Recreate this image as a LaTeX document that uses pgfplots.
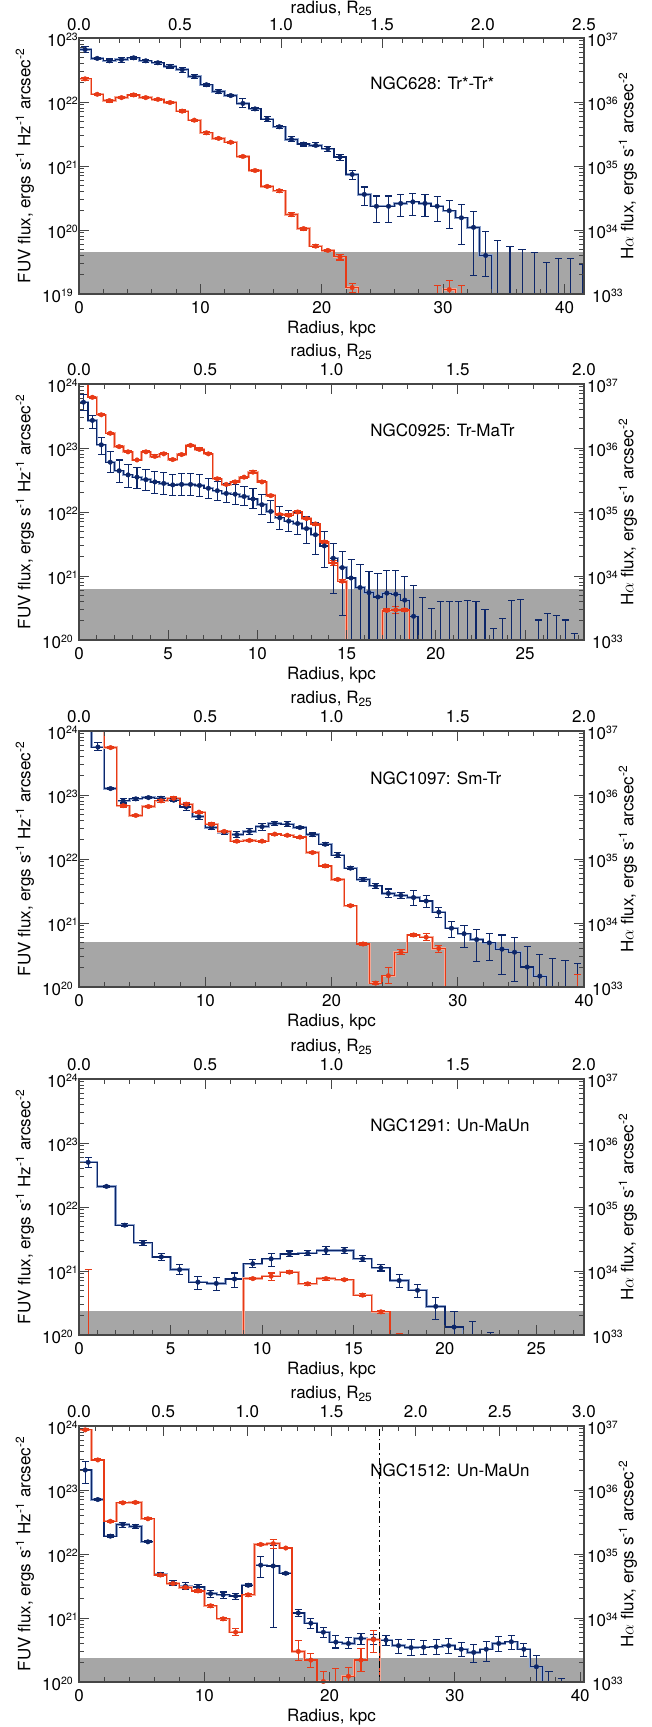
\documentclass[border=0pt]{standalone}
\usepackage{fontspec}
\setmainfont{TeX Gyre Heros}
\usepackage{pgfplots}
\usepackage{pgfplotstable}
\pgfplotsset{compat=1.18}

\definecolor{fuv}{RGB}{12,38,105}
\definecolor{fuvl}{RGB}{140,162,205}
\definecolor{ha}{RGB}{232,58,22}
\definecolor{hal}{RGB}{246,168,150}
\definecolor{band}{RGB}{166,166,166}
\definecolor{axisc}{RGB}{70,70,70}

\newcommand{\fnt}{\fontsize{17}{20}\selectfont}

% ---------------- data: x (bin centre, kpc), y, lo, hi ----------------
\pgfplotstableread{
x y lo hi
0.5 6.6e22 5.9e22 7.4e22
1.5 4.8e22 4.6e22 5.0e22
2.5 4.4e22 4.1e22 4.7e22
3.5 4.6e22 4.2e22 5.0e22
4.5 4.9e22 4.7e22 5.1e22
5.5 4.4e22 4.2e22 4.6e22
6.5 4.1e22 3.9e22 4.3e22
7.5 3.6e22 3.4e22 3.9e22
8.5 3.2e22 2.9e22 3.5e22
9.5 2.5e22 2.35e22 2.7e22
10.5 1.86e22 1.78e22 1.95e22
11.5 1.45e22 1.35e22 1.55e22
12.5 1.26e22 1.2e22 1.32e22
13.5 9.5e21 8.1e21 1.12e22
14.5 7.8e21 7.4e21 8.1e21
15.5 5.4e21 4.9e21 5.9e21
16.5 4.1e21 3.9e21 4.3e21
17.5 2.6e21 2.45e21 2.9e21
18.5 2.2e21 2.05e21 2.35e21
19.5 2.1e21 2.0e21 2.3e21
20.5 1.86e21 1.7e21 2.0e21
21.5 1.38e21 1.2e21 1.5e21
22.5 7.4e20 6.2e20 8.5e20
23.5 3.6e20 2.4e20 4.7e20
24.5 2.35e20 1.3e20 3.4e20
25.5 2.35e20 1.3e20 3.4e20
26.5 2.6e20 1.6e20 3.6e20
27.5 2.75e20 1.7e20 3.7e20
28.5 2.6e20 1.65e20 3.6e20
29.5 2.35e20 1.35e20 3.3e20
30.5 2.0e20 1.05e20 2.9e20
31.5 1.55e20 6.0e19 2.5e20
32.5 1.1e20 1.95e19 1.95e20
33.5 4.0e19 1.9e19 9.5e19
34.5 1e17 1e17 6.9e19
35.5 1e17 1e17 5.6e19
36.5 1e17 1e17 4.9e19
37.5 1e17 1e17 4.5e19
38.5 1e17 1e17 3.1e19
39.5 1e17 1e17 3.6e19
40.5 1e17 1e17 3.6e19
41.5 1e17 1e17 2.9e19
}\tAb
\pgfplotstableread{
x y lo hi
0.5 2.3e22 2.2e22 2.4e22
1.5 1.32e22 1.27e22 1.37e22
2.5 1.05e22 1.0e22 1.1e22
3.5 1.17e22 1.12e22 1.22e22
4.5 1.29e22 1.24e22 1.34e22
5.5 1.17e22 1.12e22 1.22e22
6.5 1.1e22 1.06e22 1.14e22
7.5 9.8e21 9.4e21 1.02e22
8.5 7.2e21 6.9e21 7.5e21
9.5 5.2e21 5.0e21 5.4e21
10.5 3.3e21 3.15e21 3.45e21
11.5 2.7e21 2.6e21 2.8e21
12.5 2.35e21 2.25e21 2.45e21
13.5 1.41e21 1.35e21 1.47e21
14.5 8.5e20 8.1e20 8.9e20
15.5 4.8e20 4.6e20 5.0e20
16.5 4.1e20 3.9e20 4.3e20
17.5 1.74e20 1.6e20 1.9e20
18.5 1.05e20 1.0e20 1.1e20
19.5 5.6e19 5.3e19 5.9e19
20.5 4.8e19 4.6e19 5.0e19
21.5 3.8e19 3.4e19 4.2e19
22.5 1.26e19 1.07e19 1.48e19
23.5 1e17 1e17 1e17
24.5 1e17 1e17 1e17
25.5 1e17 1e17 1e17
26.5 1e17 1e17 1e17
27.5 1e17 1e17 1e17
28.5 1e17 1e17 1e17
29.5 1e17 1e17 1.35e19
30.5 1.17e19 1.0e19 1.6e19
31.5 1e17 1e17 1.35e19
32.5 1e17 1e17 1e17
33.5 1e17 1e17 1e17
34.5 1e17 1e17 1e17
35.5 1e17 1e17 1e17
36.5 1e17 1e17 1e17
37.5 1e17 1e17 1e17
38.5 1e17 1e17 1e17
39.5 1e17 1e17 1e17
40.5 1e17 1e17 1e17
41.5 1e17 1e17 1e17
}\tAr
\pgfplotstableread{
x y lo hi
0.25 5.2e23 3.8e23 6.8e23
0.75 2.7e23 2.0e23 3.2e23
1.25 1.12e23 7.9e22 1.45e23
1.75 6.0e22 4.1e22 8.7e22
2.25 4.4e22 2.9e22 6.5e22
2.75 3.8e22 2.45e22 5.5e22
3.25 3.5e22 2.35e22 5.0e22
3.75 3.2e22 2.15e22 4.6e22
4.25 2.95e22 1.95e22 4.3e22
4.75 2.8e22 1.9e22 4.1e22
5.25 2.65e22 1.8e22 3.8e22
5.75 2.7e22 1.8e22 4.0e22
6.25 2.7e22 1.8e22 4.0e22
6.75 2.6e22 1.75e22 3.9e22
7.25 2.35e22 1.6e22 3.3e22
7.75 2.15e22 1.5e22 3.0e22
8.25 1.95e22 1.4e22 2.75e22
8.75 1.9e22 1.3e22 2.7e22
9.25 1.75e22 1.25e22 2.5e22
9.75 1.6e22 1.15e22 2.35e22
10.25 1.3e22 9.1e21 1.85e22
10.75 1.02e22 6.9e21 1.5e22
11.25 8.1e21 5.4e21 1.2e22
11.75 7.2e21 4.9e21 1.05e22
12.25 6.6e21 4.4e21 9.8e21
12.75 5.5e21 3.2e21 8.5e21
13.25 4.4e21 2.2e21 6.8e21
13.75 2.95e21 1.35e21 4.9e21
14.25 1.9e21 5.4e20 3.2e21
14.75 1.35e21 2.45e20 2.4e21
15.25 9.3e20 1e18 1.8e21
15.75 6.6e20 1e18 1.5e21
16.25 5.5e20 1e18 1.17e21
16.75 4.7e20 1e18 1.1e21
17.25 5.4e20 1e18 1.23e21
17.75 5.2e20 1e18 1.23e21
18.25 4.2e20 1e18 9.8e20
18.75 2.35e20 1e18 7.2e20
19.25 1e18 1e18 4.6e20
19.75 1e18 1e18 3.1e20
20.25 1e18 1e18 4.0e20
20.75 1e18 1e18 4.0e20
21.25 1e18 1e18 4.0e20
21.75 1e18 1e18 4.1e20
22.25 1e18 1e18 4.0e20
22.75 1e18 1e18 3.0e20
23.25 1e18 1e18 1.5e20
23.75 1e18 1e18 2.15e20
24.25 1e18 1e18 4.2e20
24.75 1e18 1e18 4.35e20
25.25 1e18 1e18 1e18
25.75 1e18 1e18 2.05e20
26.25 1e18 1e18 2.6e20
26.75 1e18 1e18 2.45e20
27.25 1e18 1e18 2.05e20
27.75 1e18 1e18 1.25e20
28.25 1e18 1e18 1e18
}\tBb
\pgfplotstableread{
x y lo hi
0.25 1.12e24 1.1e24 1.15e24
0.75 6.2e23 6.0e23 6.4e23
1.25 3.3e23 3.2e23 3.4e23
1.75 1.7e23 1.65e23 1.75e23
2.25 1.05e23 1.02e23 1.08e23
2.75 8.7e22 8.4e22 9.0e22
3.25 6.5e22 6.3e22 6.7e22
3.75 8.7e22 8.4e22 9.0e22
4.25 7.4e22 7.0e22 7.9e22
4.75 8.1e22 7.8e22 8.4e22
5.25 6.6e22 6.4e22 6.8e22
5.75 7.9e22 7.6e22 8.2e22
6.25 1.1e23 1.06e23 1.14e23
6.75 9.5e22 9.0e22 1.0e23
7.25 8.1e22 7.8e22 8.4e22
7.75 3.3e22 3.2e22 3.4e22
8.25 2.7e22 2.6e22 2.8e22
8.75 2.95e22 2.85e22 3.05e22
9.25 3.5e22 3.4e22 3.6e22
9.75 4.2e22 4.0e22 4.4e22
10.25 2.95e22 2.85e22 3.05e22
10.75 1.8e22 1.74e22 1.86e22
11.25 9.1e21 8.7e21 9.5e21
11.75 8.9e21 8.5e21 9.3e21
12.25 1.0e22 9.6e21 1.04e22
12.75 7.9e21 7.6e21 8.2e21
13.25 6.5e21 6.2e21 6.8e21
13.75 3.4e21 3.2e21 3.6e21
14.25 1.6e21 1.45e21 1.75e21
14.75 8.3e20 7.9e20 8.7e20
15.25 1e18 1e18 1e18
15.75 1e18 1e18 1e18
16.25 1e18 1e18 1e18
16.75 1e18 1e18 1e18
17.25 2.9e20 2.75e20 3.05e20
17.75 2.95e20 2.6e20 3.3e20
18.25 2.95e20 2.75e20 3.1e20
18.75 1e18 1e18 1e18
19.25 1e18 1e18 1e18
19.75 1e18 1e18 1e18
20.25 1e18 1e18 1e18
20.75 1e18 1e18 1e18
21.25 1e18 1e18 1e18
21.75 1e18 1e18 1e18
22.25 1e18 1e18 1e18
22.75 1e18 1e18 1e18
23.25 1e18 1e18 1e18
23.75 1e18 1e18 1e18
24.25 1e18 1e18 1e18
24.75 1e18 1e18 1e18
25.25 1e18 1e18 1e18
25.75 1e18 1e18 1e18
26.25 1e18 1e18 1e18
26.75 1e18 1e18 1e18
27.25 1e18 1e18 1e18
27.75 1e18 1e18 1e18
28.25 1e18 1e18 1e18
}\tBr
\pgfplotstableread{
x y lo hi
0.5 1.26e24 1.2e24 1.3e24
1.5 5.6e23 4.9e23 6.6e23
2.5 1.26e23 1.22e23 1.3e23
3.5 8.1e22 7.5e22 8.7e22
4.5 8.7e22 8.3e22 9.1e22
5.5 9.1e22 8.7e22 9.5e22
6.5 8.9e22 8.3e22 9.5e22
7.5 8.3e22 7.9e22 8.7e22
8.5 6.5e22 5.8e22 7.2e22
9.5 4.6e22 4.1e22 5.1e22
10.5 3.1e22 2.9e22 3.35e22
11.5 2.6e22 2.45e22 2.8e22
12.5 2.4e22 2.15e22 2.65e22
13.5 2.7e22 2.45e22 2.95e22
14.5 3.2e22 2.8e22 3.6e22
15.5 3.6e22 3.3e22 3.9e22
16.5 3.5e22 3.2e22 3.8e22
17.5 3.1e22 2.95e22 3.25e22
18.5 2.4e22 2.25e22 2.55e22
19.5 1.7e22 1.6e22 1.8e22
20.5 1.15e22 1.05e22 1.25e22
21.5 7.2e21 6.8e21 7.6e21
22.5 4.8e21 4.5e21 5.1e21
23.5 3.8e21 3.5e21 4.1e21
24.5 2.9e21 2.5e21 3.4e21
25.5 2.7e21 2.45e21 2.95e21
26.5 2.5e21 1.86e21 3.2e21
27.5 2.2e21 1.74e21 2.65e21
28.5 1.48e21 1.2e21 1.74e21
29.5 8.3e20 5.9e20 1.07e21
30.5 6.8e20 4.2e20 9.1e20
31.5 5.5e20 2.5e20 7.8e20
32.5 4.9e20 2.6e20 6.9e20
33.5 3.9e20 1.55e20 6.5e20
34.5 3.5e20 1.23e20 6.0e20
35.5 2.05e20 1e18 4.3e20
36.5 1.48e20 1e18 3.2e20
37.5 1e18 1e18 2.75e20
38.5 1e18 1e18 2.6e20
39.5 1e18 1e18 2.35e20
}\tCb
\pgfplotstableread{
x y lo hi
0.5 1.26e24 1.2e24 1.3e24
1.5 1.26e24 1.2e24 1.3e24
2.5 5.5e23 5.3e23 5.7e23
3.5 6.8e22 6.5e22 7.1e22
4.5 4.8e22 4.6e22 5.0e22
5.5 6.6e22 6.3e22 6.9e22
6.5 8.1e22 7.7e22 8.5e22
7.5 8.9e22 8.5e22 9.3e22
8.5 7.2e22 6.9e22 7.5e22
9.5 5.4e22 5.2e22 5.6e22
10.5 3.5e22 3.35e22 3.65e22
11.5 2.7e22 2.6e22 2.8e22
12.5 1.9e22 1.83e22 1.97e22
13.5 1.95e22 1.88e22 2.02e22
14.5 1.9e22 1.83e22 1.97e22
15.5 2.45e22 2.36e22 2.54e22
16.5 2.35e22 2.26e22 2.44e22
17.5 2.2e22 2.12e22 2.28e22
18.5 1.26e22 1.21e22 1.31e22
19.5 7.8e21 7.5e21 8.1e21
20.5 4.8e21 4.6e21 5.0e21
21.5 1.86e21 1.79e21 1.93e21
22.5 4.7e20 4.5e20 4.9e20
23.5 1.15e20 1.1e20 1.2e20
24.5 1.5e20 1.12e20 2.0e20
25.5 3.5e20 3.2e20 3.9e20
26.5 6.5e20 6.2e20 6.8e20
27.5 6.0e20 5.4e20 6.8e20
28.5 4.0e20 3.5e20 4.5e20
29.5 1e18 1e18 1e18
30.5 1e18 1e18 1e18
31.5 1e18 1e18 1e18
32.5 1e18 1e18 1e18
33.5 1e18 1e18 1e18
34.5 1e18 1e18 1e18
35.5 1e18 1e18 1e18
36.5 1e18 1e18 1e18
37.5 1e18 1e18 1e18
38.5 1e18 1e18 1e18
39.5 1e18 1e18 1.55e20
}\tCr
\pgfplotstableread{
x y lo hi
0.5 5.0e22 4.1e22 6.0e22
1.5 2.1e22 2.03e22 2.17e22
2.5 5.2e21 4.9e21 5.5e21
3.5 2.75e21 2.5e21 3.0e21
4.5 1.66e21 1.45e21 1.9e21
5.5 1.05e21 8.7e20 1.26e21
6.5 6.7e20 5.2e20 8.3e20
7.5 6.4e20 5.0e20 7.8e20
8.5 7.5e20 5.6e20 9.3e20
9.5 1.3e21 1.12e21 1.5e21
10.5 1.55e21 1.17e21 1.9e21
11.5 1.85e21 1.7e21 2.05e21
12.5 1.9e21 1.75e21 2.1e21
13.5 2.1e21 1.8e21 2.4e21
14.5 2.1e21 1.9e21 2.3e21
15.5 1.55e21 1.4e21 1.75e21
16.5 1.12e21 1.0e21 1.25e21
17.5 7.1e20 5.6e20 8.7e20
18.5 5.0e20 3.9e20 6.2e20
19.5 2.8e20 1.75e20 3.9e20
20.5 1.33e20 1e18 2.35e20
21.5 1e18 1e18 1.6e20
22.5 1e18 1e18 1.1e20
23.5 1e18 1e18 1e18
24.5 1e18 1e18 1e18
25.5 1e18 1e18 1e18
26.5 1e18 1e18 1e18
27.5 1e18 1e18 1e18
}\tDb
\pgfplotstableread{
x y lo hi
0.5 1e18 1e18 1.07e21
1.5 1e18 1e18 1e18
2.5 1e18 1e18 1e18
3.5 1e18 1e18 1e18
4.5 1e18 1e18 1e18
5.5 1e18 1e18 1e18
6.5 1e18 1e18 1e18
7.5 1e18 1e18 1e18
8.5 1e18 1e18 1e18
9.5 7.6e20 7.3e20 7.9e20
10.5 8.3e20 7.2e20 9.3e20
11.5 9.6e20 9.2e20 1.0e21
12.5 6.3e20 6.0e20 6.6e20
13.5 7.6e20 7.2e20 8.0e20
14.5 7.3e20 7.0e20 7.6e20
15.5 4.2e20 4.0e20 4.4e20
16.5 2.3e20 2.2e20 2.4e20
17.5 1e18 1e18 1.07e20
18.5 1e18 1e18 1e18
19.5 1e18 1e18 1e18
20.5 1e18 1e18 1e18
21.5 1e18 1e18 1e18
22.5 1e18 1e18 1e18
23.5 1e18 1e18 1e18
24.5 1e18 1e18 1e18
25.5 1e18 1e18 1e18
26.5 1e18 1e18 1e18
27.5 1e18 1e18 1e18
}\tDr
\pgfplotstableread{
x y lo hi
0.5 2.05e23 1.26e23 2.75e23
1.5 7.1e22 6.8e22 7.4e22
2.5 1.9e22 1.82e22 1.98e22
3.5 2.9e22 2.6e22 3.1e22
4.5 2.7e22 2.5e22 2.9e22
5.5 1.55e22 1.5e22 1.6e22
6.5 4.8e21 4.5e21 5.1e21
7.5 3.5e21 3.2e21 3.8e21
8.5 3.15e21 2.8e21 3.6e21
9.5 3.05e21 2.8e21 3.3e21
10.5 2.4e21 2.1e21 2.7e21
11.5 2.3e21 2.05e21 2.55e21
12.5 2.2e21 1.95e21 2.45e21
13.5 3.25e21 3.1e21 3.4e21
14.5 6.7e21 4.3e21 9.1e21
15.5 6.5e21 7.2e20 1.35e22
16.5 5.0e21 4.8e21 5.2e21
17.5 1.2e21 1.07e21 1.35e21
18.5 8.3e20 6.8e20 9.8e20
19.5 6.0e20 5.0e20 7.2e20
20.5 4.2e20 3.4e20 5.3e20
21.5 4.0e20 3.3e20 4.9e20
22.5 4.8e20 3.9e20 5.8e20
23.5 4.7e20 3.9e20 5.6e20
24.5 4.5e20 3.7e20 5.4e20
25.5 3.7e20 2.8e20 4.6e20
26.5 3.45e20 2.6e20 4.6e20
27.5 3.5e20 2.65e20 4.5e20
28.5 3.55e20 2.7e20 4.6e20
29.5 3.7e20 2.8e20 4.8e20
30.5 3.25e20 2.5e20 4.1e20
31.5 2.9e20 2.05e20 3.8e20
32.5 3.25e20 2.1e20 4.3e20
33.5 4.0e20 3.0e20 5.2e20
34.5 4.25e20 3.2e20 5.4e20
35.5 3.25e20 2.5e20 4.0e20
36.5 1.73e20 1e18 2.6e20
37.5 1e18 1e18 1.45e20
38.5 1e18 1e18 1.12e20
39.5 1e18 1e18 1.02e20
}\tEb
\pgfplotstableread{
x y lo hi
0.5 8.7e23 8.4e23 9.0e23
1.5 2.95e23 2.85e23 3.05e23
2.5 3.25e22 3.15e22 3.35e22
3.5 6.3e22 6.1e22 6.5e22
4.5 6.4e22 6.2e22 6.6e22
5.5 3.55e22 3.45e22 3.65e22
6.5 4.7e21 4.5e21 4.9e21
7.5 3.45e21 3.3e21 3.6e21
8.5 3.0e21 2.85e21 3.15e21
9.5 2.65e21 2.52e21 2.78e21
10.5 1.55e21 1.48e21 1.62e21
11.5 9.7e20 9.2e20 1.02e21
12.5 6.0e20 5.3e20 6.8e20
13.5 2.3e21 2.2e21 2.4e21
14.5 1.41e22 1.36e22 1.46e22
15.5 1.45e22 1.2e22 1.66e22
16.5 1.24e22 1.2e22 1.28e22
17.5 3.0e20 2.2e20 4.5e20
18.5 2.2e20 1.66e20 2.8e20
19.5 1.02e20 1e18 1.48e20
20.5 1e18 1e18 1.6e20
21.5 1.23e20 1.0e20 1.7e20
22.5 2.2e20 1.45e20 3.3e20
23.5 4.6e20 2.9e20 6.3e20
24.5 1e18 1e18 1e18
25.5 1e18 1e18 1e18
26.5 1e18 1e18 1e18
27.5 1e18 1e18 1e18
28.5 1e18 1e18 1e18
29.5 1e18 1e18 1e18
30.5 1e18 1e18 1e18
31.5 1e18 1e18 1e18
32.5 1e18 1e18 1e18
33.5 1e18 1e18 1e18
34.5 1e18 1e18 1e18
35.5 1e18 1e18 1e18
36.5 1e18 1e18 1e18
37.5 1e18 1e18 1e18
38.5 1e18 1e18 1e18
39.5 1e18 1e18 1e18
}\tEr

% ---------------- plotting helpers ----------------
% #1 table, #2 half bin width, #3 ymin, #4 ymax, #5 colour, #6 light colour
\newcommand{\steps}[6]{%
  \addplot[#6, line width=2.4pt, const plot mark left, forget plot]
    table[x expr=\thisrow{x}-#2, y expr={min(max(\thisrow{y},#3),#4)}]{#1};
  \addplot[#6, line width=2.4pt, const plot mark right, forget plot]
    table[x expr=\thisrow{x}+#2, y expr={min(max(\thisrow{y},#3),#4)}]{#1};
  \addplot[#5, line width=1.2pt, const plot mark left, forget plot]
    table[x expr=\thisrow{x}-#2, y expr={min(max(\thisrow{y},#3),#4)}]{#1};
  \addplot[#5, line width=1.2pt, const plot mark right, forget plot]
    table[x expr=\thisrow{x}+#2, y expr={min(max(\thisrow{y},#3),#4)}]{#1};
}
% #1 table, #2 colour
\newcommand{\pts}[2]{%
  \addplot[#2, only marks, mark=*, mark size=2.3pt, forget plot,
    error bars/y dir=both, error bars/y explicit,
    error bars/error bar style={#2, line width=1.1pt},
    error bars/error mark options={#2, rotate=90, mark size=3.6pt, line width=1.1pt}]
    table[x=x, y=y, y error plus expr=\thisrow{hi}-\thisrow{y},
          y error minus expr=\thisrow{y}-\thisrow{lo}]{#1};
}

\newcommand{\logtick}{10\raisebox{6pt}{\fontsize{10.5}{11}\selectfont\pgfmathprintnumber[fixed,precision=0,assume math mode=true]{\tick}}}

\pgfplotsset{
  every axis/.append style={
    scale only axis, width=505pt, height=256pt,
    tick align=inside,
    axis line style={axisc, line width=1.3pt},
    major tick length=10pt, minor tick length=5pt,
    tick style={axisc, line width=0.9pt},
    every tick label/.append style={font=\fnt},
    label style={font=\fnt},
  },
  mainax/.style={
    xtick pos=left, xticklabel pos=left, ytick pos=left, yticklabel pos=left,
    axis on top,
    xticklabel={\pgfmathprintnumber[assume math mode=true]{\tick}},
    yticklabel={\logtick\ifnum\ticknum=0\kern5pt\fi},
    every x tick label/.append style={yshift=-4pt},
    every y tick label/.append style={inner xsep=1pt, yshift=-2pt},
    xlabel={Radius, kpc},
    ylabel={FUV flux, ergs s\textsuperscript{-1} Hz\textsuperscript{-1} arcsec\textsuperscript{-2}},
    xlabel style={at={(axis description cs:0.5,-0.136)}, anchor=center},
    ylabel style={at={(axis description cs:-0.107,0.5)}, anchor=center},
  },
  topax/.style={
    xtick pos=right, xticklabel pos=right, ytick pos=right, yticklabel pos=right,
    xmin=0,
    xtick distance=0.5, minor x tick num=4,
    xticklabel={\pgfmathprintnumber[fixed,fixed zerofill,precision=1,assume math mode=true]{\tick}},
    yticklabel={\ifnum\ticknum=0\kern5pt\fi\logtick},
    every x tick label/.append style={yshift=5pt},
    every y tick label/.append style={inner xsep=3pt, yshift=-2pt},
    xlabel={radius, R\textsubscript{25}},
    ylabel={H$\alpha$ flux, ergs s\textsuperscript{-1} arcsec\textsuperscript{-2}},
    xlabel style={at={(axis description cs:0.5,1.125)}, anchor=center},
    ylabel style={at={(axis description cs:1.087,0.5)}, anchor=center},
  },
}

\begin{document}
\begin{tikzpicture}
% ================= panel 1 =================
\begin{axis}[mainax, ymode=log, log basis y=10, anchor=north west, at={(79pt,-38pt)},
  xmin=0, xmax=41.6, ymin=1e19, ymax=1e23, xtick distance=10, minor x tick num=4]
\addplot[fill=band, draw=none, forget plot] coordinates {(0,1e19) (41.6,1e19) (41.6,4.5e19) (0,4.5e19)} -- cycle;
\steps{\tAb}{0.5}{1e19}{1e23}{fuv}{fuvl}
\steps{\tAr}{0.5}{1e19}{1e23}{ha}{hal}
\pts{\tAb}{fuv}
\pts{\tAr}{ha}
\node[anchor=west, font=\fnt] at (rel axis cs:0.57,0.824) {NGC628: Tr*-Tr*};
\end{axis}
\begin{axis}[topax, ymode=log, log basis y=10, anchor=north west, at={(79pt,-38pt)},
  xmax=2.5, ymin=1e33, ymax=1e37,
  every x tick label/.append style={yshift=-1pt},
  xlabel style={at={(axis description cs:0.5,1.115)}, anchor=center}]
\end{axis}
% ================= panel 2 =================
\begin{axis}[mainax, ymode=log, log basis y=10, anchor=north west, at={(79pt,-384pt)},
  xmin=0, xmax=28.3, ymin=1e20, ymax=1e24, xtick distance=5, minor x tick num=4]
\addplot[fill=band, draw=none, forget plot] coordinates {(0,1e20) (28.3,1e20) (28.3,6.2e20) (0,6.2e20)} -- cycle;
\steps{\tBb}{0.25}{1e20}{1e24}{fuv}{fuvl}
\steps{\tBr}{0.25}{1e20}{1e24}{ha}{hal}
\pts{\tBr}{ha}
\pts{\tBb}{fuv}
\node[anchor=west, font=\fnt] at (rel axis cs:0.57,0.82) {NGC0925: Tr-MaTr};
\end{axis}
\begin{axis}[topax, ymode=log, log basis y=10, anchor=north west, at={(79pt,-384pt)},
  xmax=2.0, ymin=1e33, ymax=1e37]
\end{axis}
% ================= panel 3 =================
\begin{axis}[mainax, ymode=log, log basis y=10, anchor=north west, at={(79pt,-731pt)},
  xmin=0, xmax=40, ymin=1e20, ymax=1e24, xtick distance=10, minor x tick num=4]
\addplot[fill=band, draw=none, forget plot] coordinates {(0,1e20) (40,1e20) (40,5.1e20) (0,5.1e20)} -- cycle;
\steps{\tCb}{0.5}{1e20}{1e24}{fuv}{fuvl}
\steps{\tCr}{0.5}{1e20}{1e24}{ha}{hal}
\pts{\tCb}{fuv}
\pts{\tCr}{ha}
\node[anchor=west, font=\fnt] at (rel axis cs:0.57,0.817) {NGC1097: Sm-Tr};
\end{axis}
\begin{axis}[topax, ymode=log, log basis y=10, anchor=north west, at={(79pt,-731pt)},
  xmax=2.0, ymin=1e33, ymax=1e37]
\end{axis}
% ================= panel 4 =================
\begin{axis}[mainax, ymode=log, log basis y=10, anchor=north west, at={(79pt,-1079pt)},
  xmin=0, xmax=27.6, ymin=1e20, ymax=1e24, xtick distance=5, minor x tick num=4]
\addplot[fill=band, draw=none, forget plot] coordinates {(0,1e20) (27.6,1e20) (27.6,2.35e20) (0,2.35e20)} -- cycle;
\steps{\tDb}{0.5}{1e20}{1e24}{fuv}{fuvl}
\steps{\tDr}{0.5}{1e20}{1e24}{ha}{hal}
\pts{\tDb}{fuv}
\pts{\tDr}{ha}
\node[anchor=west, font=\fnt] at (rel axis cs:0.57,0.82) {NGC1291: Un-MaUn};
\end{axis}
\begin{axis}[topax, ymode=log, log basis y=10, anchor=north west, at={(79pt,-1079pt)},
  xmax=2.0, ymin=1e33, ymax=1e37]
\end{axis}
% ================= panel 5 =================
\begin{axis}[mainax, ymode=log, log basis y=10, anchor=north west, at={(79pt,-1426pt)},
  xmin=0, xmax=40.3, ymin=1e20, ymax=1e24, xtick distance=10, minor x tick num=4]
\addplot[fill=band, draw=none, forget plot] coordinates {(0,1e20) (40.3,1e20) (40.3,2.35e20) (0,2.35e20)} -- cycle;
\steps{\tEb}{0.5}{1e20}{1e24}{fuv}{fuvl}
\steps{\tEr}{0.5}{1e20}{1e24}{ha}{hal}
\pts{\tEb}{fuv}
\pts{\tEr}{ha}
\addplot[black, line width=1pt, dash pattern=on 7pt off 3pt on 1.5pt off 3pt, forget plot] coordinates {(24,1e20) (24,1e24)};
\node[anchor=west, font=\fnt] at (rel axis cs:0.57,0.828) {NGC1512: Un-MaUn};
\end{axis}
\begin{axis}[topax, ymode=log, log basis y=10, anchor=north west, at={(79pt,-1426pt)},
  xmax=3.0, ymin=1e33, ymax=1e37]
\end{axis}
\pgfresetboundingbox
\path[use as bounding box] (0,0) rectangle (651pt,-1727pt);
\end{tikzpicture}
\end{document}
